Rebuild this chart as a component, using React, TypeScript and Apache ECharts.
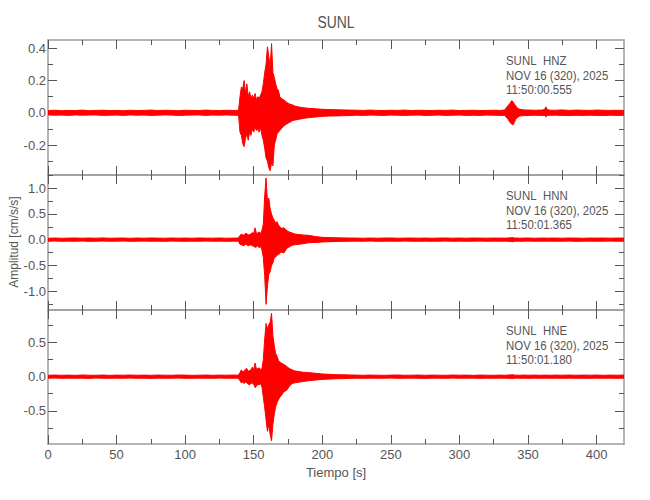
import React, { useEffect, useRef } from "react";
import * as echarts from "echarts";

// ---- data ----
const timeSec = [
  0, 5, 10, 15, 20, 25, 30, 35, 40, 45, 50, 55, 60, 65, 70, 75, 80, 85, 90, 95, 100, 105, 110, 115, 120, 125, 130, 135,
  138, 139,
  140, 141, 142, 143, 144, 145, 146, 147, 148, 149, 150, 151, 152, 153, 154, 155, 156, 157, 158, 159, 160, 161, 162, 163, 164, 165, 166, 167, 168, 169, 170,
  172, 174, 176, 178, 180, 183, 186, 190, 195, 200, 205, 210, 215, 220,
  225, 230, 235, 240, 245, 250, 255, 260, 265, 270, 275, 280, 285, 290, 295, 300, 305, 310, 315, 320, 325, 330,
  333, 335, 337, 338, 339, 340, 341, 342, 344, 347, 350, 355, 360, 362, 363, 364, 366,
  370, 375, 380, 385, 390, 395, 400, 405, 410, 415, 420,
];

const hnzUpper = [
  0.014, 0.016, 0.013, 0.015, 0.014, 0.017, 0.013, 0.015, 0.016, 0.014, 0.015, 0.013, 0.016, 0.014, 0.015, 0.017, 0.014, 0.016, 0.015, 0.013, 0.016, 0.015, 0.014, 0.017, 0.015, 0.014, 0.016, 0.015,
  0.015, 0.02,
  0.10, 0.16, 0.15, 0.20, 0.12, 0.18, 0.10, 0.13, 0.09, 0.11, 0.09, 0.12, 0.08, 0.10, 0.09, 0.11, 0.13, 0.18, 0.25, 0.30, 0.41, 0.35, 0.28, 0.43, 0.25, 0.22, 0.18, 0.15, 0.14, 0.10, 0.09,
  0.08, 0.065, 0.055, 0.05, 0.042, 0.036, 0.032, 0.028, 0.025, 0.022, 0.02, 0.019, 0.018, 0.017,
  0.016, 0.015, 0.017, 0.015, 0.014, 0.016, 0.015, 0.017, 0.014, 0.016, 0.015, 0.014, 0.016, 0.015, 0.017, 0.014, 0.015, 0.016, 0.014, 0.015, 0.016, 0.015,
  0.018, 0.04, 0.06, 0.075, 0.07, 0.055, 0.045, 0.03, 0.022, 0.018, 0.017, 0.016, 0.017, 0.02, 0.037, 0.02, 0.016,
  0.016, 0.018, 0.015, 0.017, 0.016, 0.015, 0.017, 0.016, 0.015, 0.016, 0.015,
];
const hnzLower = [
  -0.013, -0.015, -0.014, -0.016, -0.013, -0.015, -0.014, -0.013, -0.016, -0.015, -0.014, -0.016, -0.013, -0.015, -0.014, -0.016, -0.015, -0.013, -0.014, -0.016, -0.015, -0.014, -0.013, -0.016, -0.014, -0.015, -0.013, -0.015,
  -0.015, -0.02,
  -0.12, -0.14, -0.19, -0.21, -0.16, -0.13, -0.17, -0.12, -0.14, -0.10, -0.12, -0.09, -0.11, -0.10, -0.12, -0.09, -0.14, -0.17, -0.22, -0.28, -0.30, -0.34, -0.36, -0.31, -0.33, -0.20, -0.17, -0.13, -0.12, -0.11, -0.10,
  -0.08, -0.07, -0.06, -0.05, -0.045, -0.04, -0.035, -0.03, -0.026, -0.022, -0.02, -0.019, -0.018, -0.017,
  -0.015, -0.016, -0.014, -0.015, -0.016, -0.014, -0.015, -0.016, -0.015, -0.014, -0.016, -0.015, -0.014, -0.016, -0.015, -0.014, -0.016, -0.015, -0.016, -0.014, -0.015, -0.016,
  -0.016, -0.035, -0.06, -0.07, -0.075, -0.06, -0.04, -0.03, -0.02, -0.017, -0.016, -0.015, -0.016, -0.017, -0.025, -0.017, -0.015,
  -0.015, -0.016, -0.017, -0.015, -0.016, -0.015, -0.016, -0.017, -0.015, -0.016, -0.015,
];

const hnnUpper = [
  0.028, 0.032, 0.027, 0.03, 0.033, 0.028, 0.031, 0.029, 0.034, 0.028, 0.03, 0.032, 0.027, 0.031, 0.029, 0.033, 0.03, 0.028, 0.032, 0.029, 0.031, 0.028, 0.033, 0.03, 0.029, 0.032, 0.028, 0.03,
  0.03, 0.04,
  0.08, 0.11, 0.09, 0.09, 0.12, 0.12, 0.09, 0.10, 0.11, 0.14, 0.12, 0.23, 0.12, 0.13, 0.15, 0.12, 0.18, 0.30, 0.85, 1.20, 0.75, 0.81, 0.60, 0.50, 0.42, 0.38, 0.32, 0.35, 0.29, 0.25, 0.22,
  0.23, 0.18, 0.15, 0.13, 0.11, 0.10, 0.09, 0.084, 0.06, 0.045, 0.04, 0.036, 0.034, 0.032,
  0.03, 0.028, 0.032, 0.029, 0.031, 0.033, 0.028, 0.03, 0.032, 0.029, 0.031, 0.028, 0.03, 0.033, 0.029, 0.031, 0.028, 0.032, 0.03, 0.029, 0.031, 0.03,
  0.03, 0.032, 0.035, 0.04, 0.038, 0.033, 0.03, 0.031, 0.029, 0.03, 0.032, 0.028, 0.031, 0.03, 0.033, 0.029, 0.03,
  0.031, 0.029, 0.032, 0.03, 0.028, 0.031, 0.03, 0.032, 0.029, 0.031, 0.03,
];
const hnnLower = [
  -0.03, -0.027, -0.032, -0.029, -0.031, -0.028, -0.033, -0.03, -0.028, -0.031, -0.029, -0.027, -0.032, -0.03, -0.028, -0.031, -0.029, -0.033, -0.028, -0.03, -0.032, -0.029, -0.031, -0.028, -0.03, -0.029, -0.032, -0.03,
  -0.03, -0.04,
  -0.09, -0.10, -0.11, -0.12, -0.09, -0.10, -0.12, -0.11, -0.10, -0.12, -0.13, -0.15, -0.14, -0.12, -0.16, -0.13, -0.20, -0.35, -0.70, -1.26, -0.90, -0.68, -0.62, -0.50, -0.45, -0.35, -0.34, -0.30, -0.29, -0.27, -0.24,
  -0.26, -0.17, -0.14, -0.11, -0.10, -0.09, -0.08, -0.06, -0.055, -0.045, -0.04, -0.035, -0.033, -0.031,
  -0.029, -0.031, -0.028, -0.032, -0.03, -0.029, -0.031, -0.028, -0.03, -0.032, -0.029, -0.031, -0.03, -0.028, -0.032, -0.029, -0.031, -0.03, -0.028, -0.031, -0.029, -0.03,
  -0.03, -0.031, -0.034, -0.038, -0.04, -0.033, -0.03, -0.029, -0.031, -0.03, -0.028, -0.031, -0.029, -0.03, -0.032, -0.03, -0.029,
  -0.03, -0.031, -0.028, -0.032, -0.03, -0.029, -0.031, -0.03, -0.028, -0.031, -0.03,
];

const hneUpper = [
  0.02, 0.024, 0.021, 0.023, 0.02, 0.025, 0.022, 0.021, 0.024, 0.02, 0.023, 0.022, 0.025, 0.021, 0.023, 0.02, 0.024, 0.022, 0.021, 0.025, 0.023, 0.02, 0.022, 0.024, 0.021, 0.023, 0.022, 0.024,
  0.022, 0.03,
  0.06, 0.10, 0.07, 0.08, 0.11, 0.12, 0.08, 0.09, 0.10, 0.14, 0.10, 0.20, 0.11, 0.12, 0.13, 0.10, 0.12, 0.25, 0.55, 0.78, 0.70, 0.76, 0.80, 0.93, 0.60, 0.45, 0.34, 0.30, 0.24, 0.22, 0.20,
  0.18, 0.15, 0.12, 0.10, 0.085, 0.075, 0.065, 0.06, 0.05, 0.04, 0.035, 0.03, 0.028, 0.026,
  0.023, 0.021, 0.024, 0.022, 0.02, 0.023, 0.025, 0.021, 0.022, 0.024, 0.02, 0.023, 0.022, 0.021, 0.024, 0.022, 0.023, 0.02, 0.024, 0.022, 0.021, 0.023,
  0.022, 0.024, 0.026, 0.03, 0.028, 0.025, 0.022, 0.023, 0.021, 0.024, 0.022, 0.023, 0.021, 0.024, 0.022, 0.023, 0.021,
  0.023, 0.022, 0.024, 0.021, 0.023, 0.022, 0.024, 0.021, 0.023, 0.022, 0.024,
];
const hneLower = [
  -0.022, -0.02, -0.024, -0.021, -0.023, -0.022, -0.025, -0.02, -0.022, -0.024, -0.021, -0.023, -0.02, -0.024, -0.022, -0.025, -0.021, -0.023, -0.022, -0.02, -0.024, -0.023, -0.021, -0.022, -0.024, -0.02, -0.023, -0.022,
  -0.022, -0.03,
  -0.06, -0.09, -0.08, -0.10, -0.08, -0.09, -0.11, -0.12, -0.09, -0.10, -0.11, -0.16, -0.14, -0.11, -0.12, -0.10, -0.15, -0.30, -0.45, -0.63, -0.80, -0.70, -0.85, -0.94, -0.70, -0.55, -0.44, -0.38, -0.34, -0.30, -0.28,
  -0.22, -0.20, -0.14, -0.10, -0.09, -0.08, -0.07, -0.06, -0.05, -0.04, -0.035, -0.03, -0.028, -0.025,
  -0.022, -0.024, -0.021, -0.023, -0.022, -0.02, -0.024, -0.022, -0.021, -0.023, -0.025, -0.021, -0.022, -0.024, -0.02, -0.023, -0.022, -0.021, -0.024, -0.022, -0.023, -0.021,
  -0.022, -0.023, -0.025, -0.028, -0.027, -0.024, -0.022, -0.021, -0.023, -0.022, -0.024, -0.021, -0.023, -0.022, -0.024, -0.021, -0.023,
  -0.022, -0.024, -0.021, -0.023, -0.022, -0.024, -0.021, -0.023, -0.022, -0.024, -0.021,
];

const stationName = "SUNL";
const channels = ["HNZ", "HNN", "HNE"];
const dateLabel = "NOV 16 (320), 2025";
const startTimes = ["11:50:00.555", "11:50:01.365", "11:50:01.180"];
const xMajorTicks = [0, 50, 100, 150, 200, 250, 300, 350, 400];
const xMinorTicks = [25, 75, 125, 175, 225, 275, 325, 375];
const xRange = [0, 420];
const yRanges = [
  [-0.386, 0.452],
  [-1.37, 1.259],
  [-0.987, 0.978],
];
const yMajorTicks = [
  [-0.2, 0, 0.2, 0.4],
  [-1, -0.5, 0, 0.5, 1],
  [-0.5, 0, 0.5],
];
const yMinorTicks = [
  [-0.3, -0.1, 0.1, 0.3],
  [-1.25, -0.75, -0.25, 0.25, 0.75, 1.25],
  [-0.75, -0.25, 0.25, 0.75],
];
const uppers = [hnzUpper, hnnUpper, hneUpper];
const lowers = [hnzLower, hnnLower, hneLower];

// ---- layout / style ----
const FONT = "'Liberation Sans Narrow', 'Liberation Sans', Arial, sans-serif";
const TEXT = "#555";
const FRAME = "#9c9c9c";
const TICK = "#555";
const TRACE = "#ff0000";
const gridTops = [40, 175, 310];
const gridHeights = [135, 135, 134];
const gridLeft = 48;
const gridWidth = 576;

function fmtY(v: number) {
  return v.toFixed(1);
}

export default function App() {
  const ref = useRef<HTMLDivElement>(null);

  useEffect(() => {
    document.body.style.margin = "0";
    if (!ref.current) return;
    const chart = echarts.init(ref.current, null, { renderer: "svg" });

    const grids = gridTops.map((top, i) => ({
      left: gridLeft,
      top,
      width: gridWidth,
      height: gridHeights[i],
      containLabel: false,
    }));

    const xAxes: any[] = [];
    const yAxes: any[] = [];
    for (let i = 0; i < 3; i++) {
      for (const pos of ["bottom", "top"]) {
        for (const major of [true, false]) {
          const showLabels = major && pos === "bottom" && i === 2;
          xAxes.push({
            type: "value",
            gridIndex: i,
            position: pos,
            min: xRange[0],
            max: xRange[1],
            axisLine: { show: major, onZero: false, lineStyle: { color: FRAME, width: 1.5 } },
            axisTick: {
              show: true,
              inside: true,
              length: major ? 9 : 5,
              customValues: major ? xMajorTicks : xMinorTicks,
              lineStyle: { color: TICK, width: 1 },
            },
            axisLabel: {
              show: showLabels,
              customValues: xMajorTicks,
              color: TEXT,
              fontFamily: FONT,
              fontSize: 13,
              margin: 4,
            },
            splitLine: { show: false },
          });
        }
      }
      for (const pos of ["left", "right"]) {
        for (const major of [true, false]) {
          const showLabels = major && pos === "left";
          yAxes.push({
            type: "value",
            gridIndex: i,
            position: pos,
            min: yRanges[i][0],
            max: yRanges[i][1],
            axisLine: { show: major, onZero: false, lineStyle: { color: FRAME, width: 1.5 } },
            axisTick: {
              show: true,
              inside: true,
              length: major ? 9 : 5,
              customValues: major ? yMajorTicks[i] : yMinorTicks[i],
              lineStyle: { color: TICK, width: 1 },
            },
            axisLabel: {
              show: showLabels,
              customValues: yMajorTicks[i],
              formatter: (v: number) => fmtY(v),
              color: TEXT,
              fontFamily: FONT,
              fontSize: 13,
              margin: 2,
            },
            splitLine: { show: false },
          });
        }
      }
    }

    const series: any[] = [];
    for (let i = 0; i < 3; i++) {
      const up = uppers[i];
      const lo = lowers[i];
      const n = Math.min(timeSec.length, up.length, lo.length);
      const data: number[][] = [];
      for (let k = 0; k < n; k++) data.push([timeSec[k], lo[k], up[k]]);
      series.push({
        type: "custom",
        name: channels[i],
        xAxisIndex: 4 * i,
        yAxisIndex: 4 * i,
        data,
        encode: { x: 0, y: [1, 2] },
        silent: true,
        clip: true,
        renderItem: (params: any, api: any) => {
          if (params.dataIndex !== 0) return null;
          const pts: number[][] = [];
          for (let k = 0; k < n; k++) pts.push(api.coord([timeSec[k], up[k]]));
          for (let k = n - 1; k >= 0; k--) pts.push(api.coord([timeSec[k], lo[k]]));
          return {
            type: "polygon",
            shape: { points: pts },
            style: { fill: TRACE, stroke: TRACE, lineWidth: 1 },
          };
        },
      });
    }

    const graphics: any[] = [
      {
        type: "text",
        x: 336,
        y: 22,
        scaleX: 0.82,
        style: { text: stationName, fill: TEXT, font: `17px ${FONT}`, align: "center", verticalAlign: "middle" },
      },
      {
        type: "text",
        x: 14,
        y: 242,
        rotation: Math.PI / 2,
        style: { text: "Amplitud [cm/s/s]", fill: TEXT, font: `12px ${FONT}`, align: "center", verticalAlign: "middle" },
      },
      {
        type: "text",
        x: 336,
        y: 472,
        style: { text: "Tiempo [s]", fill: TEXT, font: `13px ${FONT}`, align: "center", verticalAlign: "middle" },
      },
    ];
    for (let i = 0; i < 3; i++) {
      const t = gridTops[i];
      const st = (text: string) => ({ text, fill: TEXT, font: `13px ${FONT}`, verticalAlign: "middle" });
      graphics.push(
        { type: "text", x: 506, y: t + 21, scaleX: 0.88, style: st(stationName) },
        { type: "text", x: 543, y: t + 21, scaleX: 0.88, style: st(channels[i]) },
        { type: "text", x: 506, y: t + 35.5, scaleX: 0.88, style: st(dateLabel) },
        { type: "text", x: 506, y: t + 49.5, scaleX: 0.88, style: st(startTimes[i]) }
      );
    }

    chart.setOption({
      animation: false,
      backgroundColor: "#ffffff",
      grid: grids,
      xAxis: xAxes,
      yAxis: yAxes,
      series,
      graphic: graphics,
    });

    return () => chart.dispose();
  }, []);

  return <div ref={ref} style={{ width: 650, height: 500 }} />;
}
